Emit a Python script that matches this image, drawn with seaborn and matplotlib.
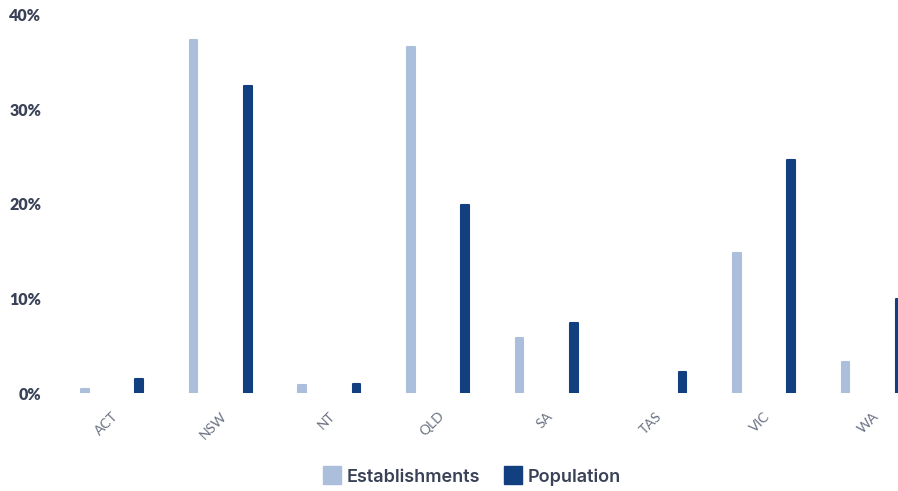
import matplotlib
matplotlib.use("Agg")
import matplotlib.pyplot as plt
import seaborn as sns
import pandas as pd
from matplotlib.lines import Line2D
from matplotlib.ticker import FuncFormatter

regions = ["ACT", "NSW", "NT", "QLD", "SA", "TAS", "VIC", "WA"]
establishments = [0.4, 37.4, 0.85, 36.6, 5.8, 0.0, 14.8, 3.3]
population = [1.5, 32.5, 1.0, 19.9, 7.4, 2.2, 24.7, 10.0]
series_names = ["Establishments", "Population"]
colors = ["#abbfdc", "#113f7f"]

df = pd.DataFrame({
    "region": regions * 2,
    "value": establishments + population,
    "series": [series_names[0]] * len(regions) + [series_names[1]] * len(regions),
})

sns.set_theme(style="white")
plt.rcParams["font.family"] = ["Lato", "DejaVu Sans"]

fig = plt.figure(figsize=(8.98, 4.91), dpi=100)
ax = fig.add_axes([57.7 / 898, 98 / 491, 869.3 / 898, 378 / 491])

sns.barplot(data=df, x="region", y="value", hue="series", order=regions,
            hue_order=series_names, palette=colors, width=1.0, gap=0.86,
            ax=ax, legend=False, saturation=1)

for p in ax.patches:
    if p.get_height() > 0:
        p.set_edgecolor(p.get_facecolor())
        p.set_linewidth(1.5)
        p.set_joinstyle("round")

ax.set_ylim(0, 40)
ax.set_xlim(-0.5, len(regions) - 0.5)
ax.set_yticks([0, 10, 20, 30, 40])
ax.yaxis.set_major_formatter(FuncFormatter(lambda v, p: f"{int(v)}%"))
ax.set_xlabel("")
ax.set_ylabel("")
for s in ax.spines.values():
    s.set_visible(False)
ax.tick_params(axis="y", length=0, pad=12, labelsize=11.5, labelcolor="#3a4257")
for lbl in ax.get_yticklabels():
    lbl.set_fontweight("heavy")
ax.tick_params(axis="x", length=0, pad=12, labelsize=10, labelcolor="#6b7283")
for lbl in ax.get_xticklabels():
    lbl.set_rotation(45)
    lbl.set_ha("right")
    lbl.set_rotation_mode("anchor")

handles = [Line2D([0], [0], marker="s", linestyle="", markersize=13,
                  markerfacecolor=c, markeredgecolor=c) for c in colors]
fig.legend(handles, series_names, loc="center", bbox_to_anchor=(471 / 898, 1 - 477 / 491),
           ncol=2, frameon=False, handletextpad=0.2, handlelength=1.2, columnspacing=1.2,
           prop={"family": ["Inter", "DejaVu Sans"], "weight": "semibold", "size": 13},
           labelcolor="#3a4257")

fig.savefig("out.png", dpi=100)
